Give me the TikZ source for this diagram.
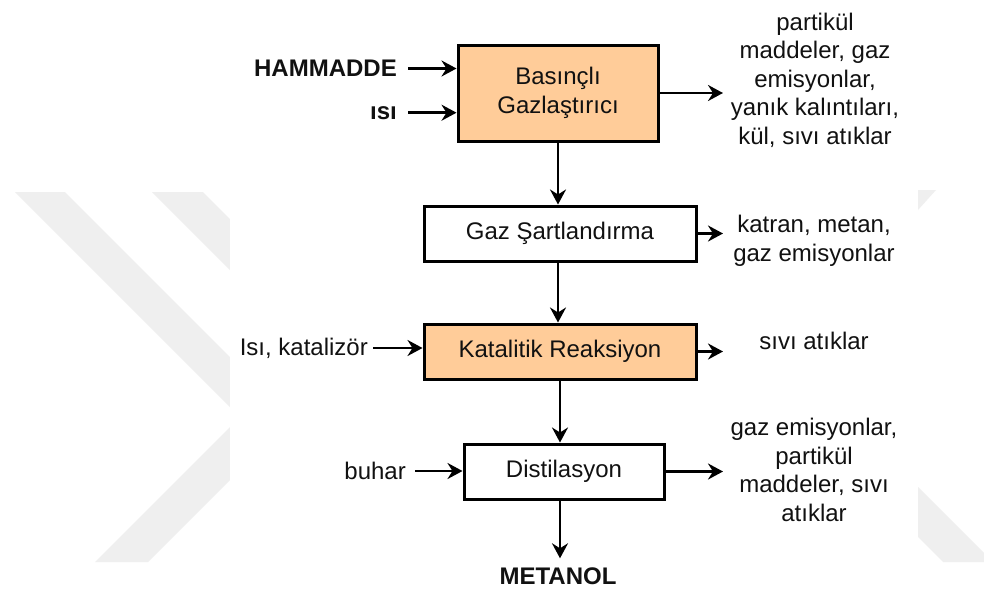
\documentclass[tikz,border=0pt]{standalone}
\usepackage{fontspec}
\setmainfont{Liberation Sans}
\usetikzlibrary{arrows.meta,positioning}
\definecolor{peach}{HTML}{FFCC99}
\definecolor{wmark}{HTML}{EFEFEF}
\definecolor{ink}{HTML}{111111}

\begin{document}
\begin{tikzpicture}[x=1pt,y=-1pt,
  >={Stealth[length=15pt,width=16pt,inset=5pt]},
  every node/.style={font=\fontsize{24}{28.5}\selectfont, text=ink},
  block/.style={draw, line width=3pt, minimum height=55pt, align=center, inner sep=0pt},
  hot/.style={block, fill=peach},
  link/.style={->, line width=2.5pt},
  lbl/.style={inner sep=0pt, align=center},
  strong/.style={lbl, font=\bfseries\fontsize{24}{28.5}\selectfont}]

% page and faint watermark
\useasboundingbox (0,0) rectangle (984,592);
\fill[white] (0,0) rectangle (984,592);
\fill[wmark] (15,192) -- (65,192) -- (315,442) -- (265,442) -- cycle;
\fill[wmark] (152,192) -- (203,192) -- (403,392) -- (352,392) -- cycle;
\fill[wmark] (95,562) -- (148,562) -- (348,362) -- (295,362) -- cycle;
\fill[wmark] (918,190) -- (936,190) -- (918,210) -- cycle;
\fill[wmark] (918,487) -- (984,553) -- (984,562) -- (943,562) -- (918,537) -- cycle;
\fill[white] (230,0) rectangle (918,592);

% define the process boxes
\node[hot, minimum width=200pt, minimum height=96pt] (b1) at (558,93) {Basınçlı\\Gazlaştırıcı};
\node[block, minimum width=272pt, below=62pt of b1, xshift=2pt] (b2) {Gaz Şartlandırma};
\node[hot, minimum width=272pt, below=60pt of b2] (b3) {Katalitik Reaksiyon};
\node[block, minimum width=200pt, below=62pt of b3, xshift=4pt] (b4) {Distilasyon};

% inputs and product
\node[strong, anchor=east] (hm)  at (397,68.5) {HAMMADDE};
\node[strong, anchor=east] (isi) at (397,112.7) {ısı};
\node[lbl, anchor=east]    (kat) at (368,348) {Isı, katalizör};
\node[lbl, anchor=east]    (bu)  at (406,471) {buhar};
\node[strong] (met) at (558,576) {METANOL};

% outputs
\coordinate (out) at (723,0);
\node[lbl] (w1) at (815,80)  {partikül\\maddeler, gaz\\emisyonlar,\\yanık kalıntıları,\\kül, sıvı atıklar};
\node[lbl] (w2) at (814,241) {katran, metan,\\gaz emisyonlar};
\node[lbl] (w3) at (814,341) {sıvı atıklar};
\node[lbl] (w4) at (814,470) {gaz emisyonlar,\\partikül\\maddeler, sıvı\\atıklar};

% define the links
\draw[link] ([xshift=11pt]hm.east) -- (hm.east -| b1.west);
\draw[link] ([xshift=11pt]isi.east) -- (isi.east -| b1.west);
\draw[link] ([xshift=5pt]kat.east) -- (kat.east -| b3.west);
\draw[link] ([xshift=9pt]bu.east) -- (bu.east -| b4.west);

\draw[link] (b1.south) -- (b1.south |- b2.north);
\draw[link] (b2.south -| b1.south) -- (b3.north -| b1.south);
\draw[link] (b3.south) -- (b3.south |- b4.north);
\draw[link] (b4.south -| b3.south) -- ([yshift=9pt]met.north -| b3.south);

\draw[link] (b1.east) -- (b1.east -| out);
\draw[link] (b2.east) -- (b2.east -| out);
\draw[link] (b3.east) -- (b3.east -| out);
\draw[link] (b4.east) -- (b4.east -| out);

\end{tikzpicture}
\end{document}
